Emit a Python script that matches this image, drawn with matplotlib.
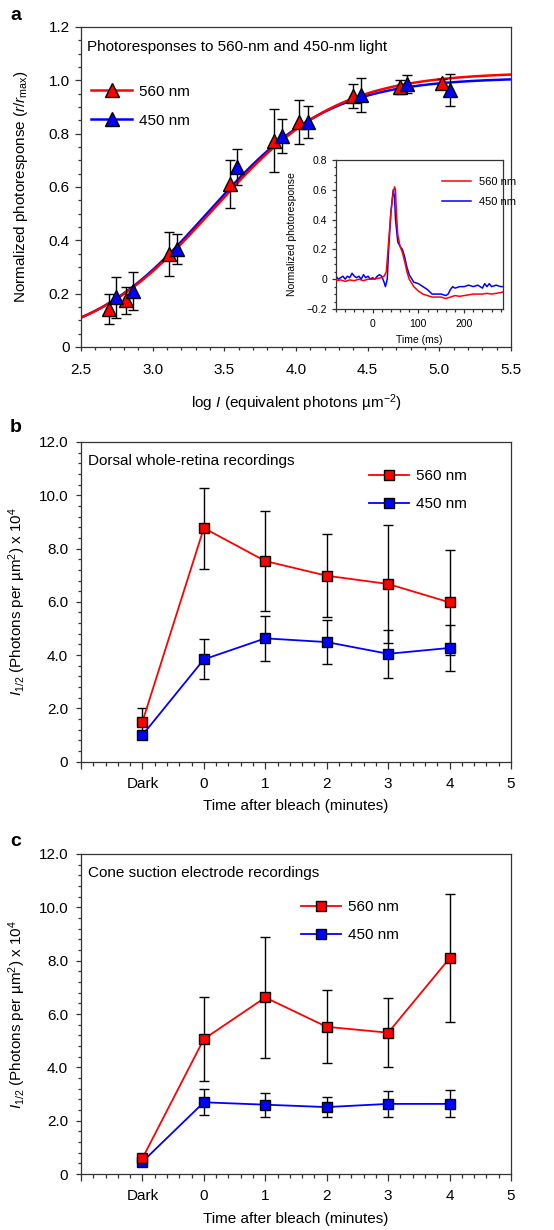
import numpy as np
import matplotlib
matplotlib.use("Agg")
import matplotlib.pyplot as plt
from matplotlib.ticker import MultipleLocator, FixedLocator, FuncFormatter

plt.rcParams['font.family'] = ['Liberation Sans', 'DejaVu Sans']
plt.rcParams['mathtext.fontset'] = 'custom'
plt.rcParams['mathtext.rm'] = 'Liberation Sans'
plt.rcParams['mathtext.it'] = 'Liberation Sans:italic'
plt.rcParams['mathtext.bf'] = 'Liberation Sans:bold'
plt.rcParams['axes.unicode_minus'] = True

RED = '#ff0000'
BLUE = '#0000ff'

# ---------------- Panel a data ----------------
a_red_x = [2.693, 2.812, 3.114, 3.538, 3.845, 4.022, 4.399, 4.725, 5.016]
a_red_y = [0.142, 0.175, 0.350, 0.611, 0.774, 0.844, 0.941, 0.975, 0.988]
a_red_err = [0.057, 0.050, 0.082, 0.090, 0.117, 0.082, 0.046, 0.026, 0.015]

a_blue_x = [2.742, 2.865, 3.170, 3.589, 3.901, 4.085, 4.450, 4.771, 5.074]
a_blue_y = [0.186, 0.211, 0.368, 0.674, 0.790, 0.845, 0.944, 0.986, 0.965]
a_blue_err = [0.078, 0.072, 0.056, 0.068, 0.064, 0.060, 0.063, 0.035, 0.060]

# Hill-type fit parameters (rmax, log half-saturation, exponent)
fit_red = (1.03, 3.42, 1.00)
fit_blue = (1.01, 3.386, 1.03)

# Inset traces (time in ms, normalized response)
ins_red_t = [-80, -70, -60, -50, -40, -30, -20, -10, 0, 10, 20, 25, 30, 35, 40, 45, 48,
             50, 52, 55, 60, 65, 70, 75, 80, 90, 100, 110, 120, 130, 140, 150, 160,
             170, 180, 190, 200, 210, 220, 230, 240, 250, 260, 270, 280, 285]
ins_red_y = [-0.01, -0.005, -0.015, -0.005, -0.01, 0.0, -0.01, 0.0, 0.0, 0.005, 0.01, 0.02,
             0.05, 0.25, 0.45, 0.58, 0.62, 0.60, 0.45, 0.30, 0.22, 0.18, 0.12, 0.05, 0.0,
             -0.05, -0.08, -0.10, -0.11, -0.12, -0.12, -0.12, -0.13, -0.12, -0.11, -0.115,
             -0.11, -0.105, -0.10, -0.10, -0.10, -0.095, -0.10, -0.095, -0.09, -0.085]

ins_blue_t = [-80, -75, -70, -65, -60, -55, -50, -45, -40, -35, -30, -25, -20, -15, -10, -5,
              0, 5, 10, 15, 20, 25, 28, 32, 35, 40, 45, 48, 50, 55, 60, 65, 70, 75, 80,
              90, 100, 110, 120, 130, 140, 150, 160, 165, 170, 175, 180, 190, 200, 210,
              220, 230, 240, 245, 250, 255, 260, 270, 280, 285]
ins_blue_y = [0.02, 0.0, 0.01, 0.02, 0.0, 0.02, 0.01, 0.04, 0.02, 0.01, 0.02, 0.0, 0.03,
              0.01, 0.02, 0.0, 0.01, 0.0, 0.02, 0.03, 0.02, -0.02, -0.05, 0.0, 0.20, 0.45,
              0.60, 0.55, 0.40, 0.25, 0.22, 0.20, 0.15, 0.08, 0.03, -0.02, -0.03, -0.05,
              -0.07, -0.10, -0.10, -0.10, -0.11, -0.10, -0.07, -0.05, -0.06, -0.05, -0.05,
              -0.04, -0.05, -0.04, -0.06, -0.03, -0.05, -0.03, -0.05, -0.04, -0.05, -0.05]

# ---------------- Panel b / c data ----------------
time_pos = [-1, 0, 1, 2, 3, 4]
time_labels = ['', 'Dark', '0', '1', '2', '3', '4', '5']

b_red = [1.50, 8.77, 7.53, 6.98, 6.67, 5.98]
b_red_err = [0.50, 1.52, 1.87, 1.55, 2.22, 1.97]
b_blue = [1.00, 3.84, 4.63, 4.49, 4.05, 4.27]
b_blue_err = [0.15, 0.75, 0.85, 0.82, 0.90, 0.86]

c_red = [0.59, 5.06, 6.62, 5.52, 5.30, 8.09]
c_red_err = [0.10, 1.58, 2.27, 1.37, 1.30, 2.40]
c_blue = [0.46, 2.69, 2.60, 2.51, 2.63, 2.63]
c_blue_err = [0.08, 0.48, 0.45, 0.39, 0.50, 0.51]


def hill(x, p):
    rmax, x0, n = p
    return rmax / (1.0 + 10 ** (n * (x0 - x)))


def style_axes(ax, fs=11, xmaj=3.2, xmin=2.4, ymaj=4.3, ymin=2.0, xpad=8.0, ypad=3.8):
    for s in ax.spines.values():
        s.set_linewidth(0.9)
        s.set_color('#333333')
    ax.tick_params(which='both', direction='out', top=False, right=False,
                   width=0.9, color='#333333', labelsize=fs)
    ax.tick_params(axis='x', which='major', length=xmaj, pad=xpad)
    ax.tick_params(axis='x', which='minor', length=xmin)
    ax.tick_params(axis='y', which='major', length=ymaj, pad=ypad)
    ax.tick_params(axis='y', which='minor', length=ymin)


fig = plt.figure(figsize=(5.54, 12.30), dpi=100)

# ---------------- Panel a ----------------
axa = fig.add_axes([0.1462, 0.7179, 0.7762, 0.2602])
xs = np.linspace(2.5, 5.5, 300)
axa.plot(xs, hill(xs, fit_blue), color=BLUE, lw=1.8, zorder=2)
axa.plot(xs, hill(xs, fit_red), color=RED, lw=1.8, zorder=2.1)
axa.errorbar(a_red_x, a_red_y, yerr=a_red_err, fmt='none', ecolor='black',
             elinewidth=1.0, capsize=3.6, capthick=1.0, zorder=3)
axa.errorbar(a_blue_x, a_blue_y, yerr=a_blue_err, fmt='none', ecolor='black',
             elinewidth=1.0, capsize=3.6, capthick=1.0, zorder=3)
axa.plot(a_red_x, a_red_y, linestyle='none', marker='^', ms=9.5, mfc=RED,
         mec='black', mew=1.0, zorder=4)
axa.plot(a_blue_x, a_blue_y, linestyle='none', marker='^', ms=9.5, mfc=BLUE,
         mec='black', mew=1.0, zorder=4)
# legend proxies
hr, = axa.plot([], [], color=RED, lw=1.8, marker='^', ms=9.5, mfc=RED, mec='black', mew=1.0)
hb, = axa.plot([], [], color=BLUE, lw=1.8, marker='^', ms=9.5, mfc=BLUE, mec='black', mew=1.0)
axa.legend([hr, hb], ['560 nm', '450 nm'], loc='upper left', bbox_to_anchor=(0.023, 0.82),
           frameon=False, borderpad=0, borderaxespad=0, handlelength=2.7,
           handletextpad=0.45, labelspacing=1.0, fontsize=11)
axa.set_xlim(2.5, 5.5)
axa.set_ylim(0, 1.2)
axa.xaxis.set_major_locator(MultipleLocator(0.5))
axa.xaxis.set_minor_locator(MultipleLocator(0.1))
axa.yaxis.set_major_locator(MultipleLocator(0.2))
axa.yaxis.set_minor_locator(MultipleLocator(0.05))
axa.xaxis.set_major_formatter(FuncFormatter(lambda v, p: f'{v:.1f}'))
axa.yaxis.set_major_formatter(FuncFormatter(lambda v, p: '0' if abs(v) < 1e-9 else f'{v:.1f}'))
style_axes(axa)
axa.set_xlabel('log $I$ (equivalent photons \u00b5m$^{-2}$)', fontsize=11)
axa.set_ylabel('Normalized photoresponse ($r$/$r_{\\mathrm{max}}$)', fontsize=11)
axa.xaxis.set_label_coords(0.5, -0.143)
axa.yaxis.set_label_coords(-0.118, 0.5)
axa.text(0.014, 0.9375, 'Photoresponses to 560-nm and 450-nm light', transform=axa.transAxes,
         ha='left', va='center', fontsize=11)

# inset
axi = fig.add_axes([0.6065, 0.7488, 0.3015, 0.1211])
axi.plot(ins_blue_t, ins_blue_y, color=BLUE, lw=1.1, label='450 nm', zorder=2)
axi.plot(ins_red_t, ins_red_y, color=RED, lw=1.1, label='560 nm', zorder=3)
axi.set_xlim(-80, 285)
axi.set_ylim(-0.2, 0.8)
axi.xaxis.set_major_locator(MultipleLocator(100))
axi.xaxis.set_minor_locator(MultipleLocator(20))
axi.yaxis.set_major_locator(MultipleLocator(0.2))
axi.yaxis.set_minor_locator(MultipleLocator(0.05))
axi.yaxis.set_major_formatter(FuncFormatter(
    lambda v, p: '0' if abs(v) < 1e-9 else f'{v:.1f}'.replace('-', '\u2212')))
style_axes(axi, fs=7.5, xmaj=3.0, xmin=2.0, ymaj=3.0, ymin=1.8, xpad=4.0, ypad=3.5)
axi.set_xlabel('Time (ms)', fontsize=7.5)
axi.set_ylabel('Normalized photoresponse', fontsize=7.5)
axi.xaxis.set_label_coords(0.5, -0.175)
axi.yaxis.set_label_coords(-0.235, 0.5)
hi = axi.get_legend_handles_labels()
axi.legend([hi[0][1], hi[0][0]], [hi[1][1], hi[1][0]], loc='upper left',
           bbox_to_anchor=(0.635, 0.885), frameon=False, borderpad=0, borderaxespad=0,
           handlelength=2.6, handletextpad=0.7, labelspacing=0.85, fontsize=8)

fig.text(16 / 554, 1 - 15 / 1230, 'a', fontsize=14, fontweight='bold', ha='center', va='center')


# ---------------- Panels b and c ----------------
def time_panel(rect, red, red_err, blue, blue_err, title, leg_anchor, letter, letter_y, xlab_y):
    ax = fig.add_axes(rect)
    ax.errorbar(time_pos, red, yerr=red_err, fmt='none', ecolor='black',
                elinewidth=1.0, capsize=3.6, capthick=1.0, zorder=2)
    ax.errorbar(time_pos, blue, yerr=blue_err, fmt='none', ecolor='black',
                elinewidth=1.0, capsize=3.6, capthick=1.0, zorder=2)
    ax.plot(time_pos, blue, color=BLUE, lw=1.3, marker='s', ms=7.2, mfc=BLUE,
            mec='black', mew=1.0, zorder=3, label='450 nm')
    ax.plot(time_pos, red, color=RED, lw=1.3, marker='s', ms=7.2, mfc=RED,
            mec='black', mew=1.0, zorder=3.1, label='560 nm')
    h, l = ax.get_legend_handles_labels()
    ax.legend([h[1], h[0]], [l[1], l[0]], loc='upper left', bbox_to_anchor=leg_anchor,
              frameon=False, borderpad=0, borderaxespad=0, handlelength=2.6,
              handletextpad=0.45, labelspacing=0.9, fontsize=11)
    ax.set_xlim(-2, 5)
    ax.set_ylim(0, 12)
    ax.xaxis.set_major_locator(FixedLocator(list(range(-2, 6))))
    ax.xaxis.set_minor_locator(MultipleLocator(0.2))
    ax.set_xticklabels(time_labels)
    ax.yaxis.set_major_locator(MultipleLocator(2))
    ax.yaxis.set_minor_locator(MultipleLocator(0.4))
    ax.yaxis.set_major_formatter(FuncFormatter(lambda v, p: '0' if abs(v) < 1e-9 else f'{v:.1f}'))
    style_axes(ax, xmaj=4.8, xmin=2.8, ymaj=3.8, ymin=2.0, xpad=6.0, ypad=5.5)
    ax.set_xlabel('Time after bleach (minutes)', fontsize=11)
    ax.set_ylabel('$I_{1/2}$ (Photons per \u00b5m$^{2}$) x 10$^{4}$', fontsize=11)
    ax.yaxis.set_label_coords(-0.123, 0.5)
    ax.xaxis.set_label_coords(0.5, xlab_y)
    ax.text(0.016, 0.94, title, transform=ax.transAxes, ha='left', va='center', fontsize=11)
    fig.text(16 / 554, 1 - letter_y / 1230, letter, fontsize=14, fontweight='bold',
             ha='center', va='center')
    return ax


axb = time_panel([0.1462, 0.3807, 0.7762, 0.2600], b_red, b_red_err, b_blue, b_blue_err,
                 'Dorsal whole-retina recordings', (0.67, 0.915), 'b', 427, -0.115)
axc = time_panel([0.1462, 0.0455, 0.7762, 0.2602], c_red, c_red_err, c_blue, c_blue_err,
                 'Cone suction electrode recordings', (0.512, 0.855), 'c', 841, -0.118)

fig.savefig('out.png', dpi=100)
